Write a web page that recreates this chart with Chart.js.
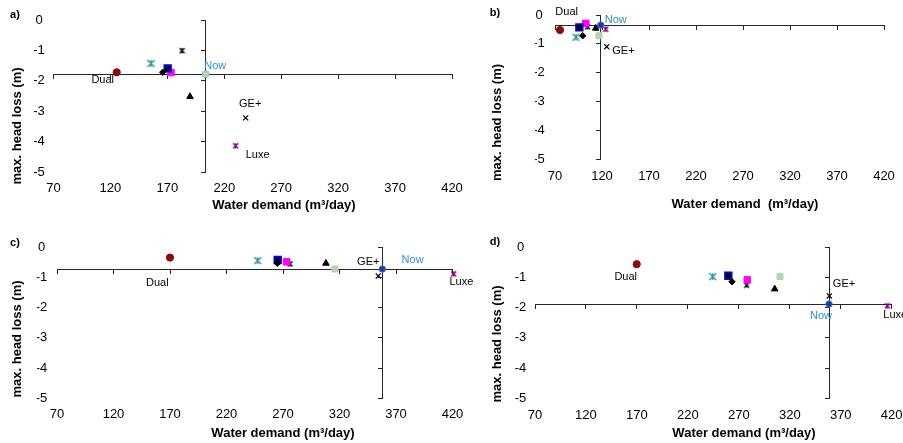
<!DOCTYPE html>
<html>
<head>
<meta charset="utf-8">
<script src="https://cdn.jsdelivr.net/npm/chart.js@4.4.1/dist/chart.umd.min.js"></script>
<style>
  html, body { margin: 0; padding: 0; background: #fff; }
  #wrap { position: relative; width: 903px; height: 443px; overflow: hidden; }
  #wrap canvas { position: absolute; left: 0; top: 0; }
</style>
</head>
<body>
<div id="wrap">
  <canvas id="panelA" width="903" height="443"></canvas>
  <canvas id="panelB" width="903" height="443"></canvas>
  <canvas id="panelC" width="903" height="443"></canvas>
  <canvas id="panelD" width="903" height="443"></canvas>
</div>
<script>
// scenarios, same order in every panel
const scenarios = ['Dual', 'S2', 'S3', 'S4', 'S5', 'S6', 'S7', 'S8', 'Now', 'GE+', 'Luxe'];

// tick labels
const demandTicks = [70, 120, 170, 220, 270, 320, 370, 420];
const lossTicks = [0, -1, -2, -3, -4, -5];

// a)
const demandA = [125.5, 155.6, 165.9, 170.3, 173.2, 182.9, 189.9, 203.7, 203.7, 238.8, 230.0];
const lossA   = [-1.72, -1.43, -1.72, -1.59, -1.73, -1.01, -2.52, -1.78, -1.78, -3.22, -4.14];
// b)
const demandB = [75.3, 92.3, 99.5, 95.9, 102.7, 104.7, 113.3, 116.8, 118.6, 125.0, 124.0];
const lossB   = [-0.52, -0.77, -0.72, -0.43, -0.29, -0.41, -0.46, -0.72, -0.35, -1.10, -0.49];
// c)
const demandC = [170.0, 247.6, 265.0, 265.3, 273.3, 276.2, 308.0, 316.0, 357.9, 354.3, 421.0];
const lossC   = [-0.34, -0.44, -0.53, -0.42, -0.48, -0.55, -0.53, -0.72, -0.72, -0.95, -0.88];
// d)
const demandD = [169.8, 244.4, 263.3, 259.7, 278.3, 277.7, 305.2, 310.4, 358.5, 358.8, 415.7];
const lossD   = [-0.56, -0.97, -1.14, -0.94, -1.08, -1.25, -1.38, -0.97, -1.88, -1.61, -1.94];

const FONT = "'Liberation Sans', Arial, sans-serif";

// excel style asterisk (x plus vertical bar)
function asterisk(color, size, lw) {
  const c = document.createElement('canvas');
  c.width = c.height = size + 2;
  const g = c.getContext('2d');
  const m = (size + 2) / 2, r = size / 2;
  g.strokeStyle = color;
  g.lineWidth = lw;
  g.beginPath();
  g.moveTo(m - r, m - r); g.lineTo(m + r, m + r);
  g.moveTo(m + r, m - r); g.lineTo(m - r, m + r);
  g.moveTo(m, m - r); g.lineTo(m, m + r);
  g.stroke();
  return c;
}

const markers = [
  { style: 'circle', r: 3.6, fill: '#8b0a0a', line: '#8b0a0a', w: 1 },
  { style: asterisk('#2b9a9a', 7, 1.4), r: 4, fill: '#2b9a9a', line: '#2b9a9a', w: 1 },
  { style: 'rectRot', r: 3.2, fill: '#000', line: '#000', w: 1 },
  { style: 'rect', r: 4.8, fill: '#000', line: '#0000ff', w: 1.6 },
  { style: 'rect', r: 4.6, fill: '#ff00ff', line: '#ff00ff', w: 1 },
  { style: asterisk('#000', 5, 1.4), r: 3, fill: '#000', line: '#000', w: 1 },
  { style: 'triangle', r: 3.8, fill: '#000', line: '#000', w: 1 },
  { style: 'rect', r: 4.2, fill: '#b9cdb9', line: '#a6d8a6', w: 1 },
  { style: 'circle', r: 3.2, fill: '#1c3c9c', line: '#3b6fd8', w: 1 },
  { style: 'crossRot', r: 3.6, fill: '#000', line: '#000', w: 1.2 },
  { style: asterisk('#800080', 5, 1.5), r: 3, fill: '#800080', line: '#800080', w: 1 }
];

const panelText = {
  id: 'panelText',
  afterDatasetsDraw(chart, args, opts) {
    const ctx = chart.ctx;
    ctx.save();
    ctx.textBaseline = 'middle';
    ctx.fillStyle = '#000';
    // panel letter
    ctx.font = 'bold 11px ' + FONT;
    ctx.textAlign = 'center';
    ctx.fillText(opts.letter.text, opts.letter.x, opts.letter.y);
    // axis titles
    ctx.font = 'bold 13px ' + FONT;
    ctx.fillText(opts.xTitle.text, opts.xTitle.x, opts.xTitle.y);
    ctx.save();
    ctx.translate(opts.yTitle.x, opts.yTitle.y);
    ctx.rotate(-Math.PI / 2);
    ctx.fillText(opts.yTitle.text, 0, 0);
    ctx.restore();
    // point labels
    ctx.font = '11px ' + FONT;
    opts.labels.forEach(l => {
      const pt = chart.getDatasetMeta(scenarios.indexOf(l.name)).data[0];
      ctx.fillStyle = l.color || '#000';
      ctx.textAlign = l.align || 'center';
      ctx.fillText(l.name, pt.x + l.dx, pt.y + l.dy);
    });
    ctx.restore();
  }
};

// keep label scales from pushing the plot area in
function noEdgePadding(s) {
  s.paddingLeft = s.paddingRight = s.paddingTop = s.paddingBottom = 0;
}

function makePanel(id, demand, loss, cfg) {
  const nowIdx = scenarios.indexOf('Now');
  const crossX = demand[nowIdx], crossY = loss[nowIdx];
  const xMin = demandTicks[0], xMax = demandTicks[demandTicks.length - 1];
  const yMin = lossTicks[lossTicks.length - 1], yMax = lossTicks[0];
  const a = cfg.area;
  const tickFont = { family: FONT, size: 13 };

  const datasets = scenarios.map((name, i) => ({
    label: name,
    data: [{ x: demand[i], y: loss[i] }],
    pointStyle: markers[i].style,
    pointRadius: markers[i].r,
    pointHoverRadius: markers[i].r,
    backgroundColor: markers[i].fill,
    borderColor: markers[i].line,
    pointBorderWidth: markers[i].w,
    clip: false
  }));

  return new Chart(document.getElementById(id), {
    type: 'scatter',
    data: { datasets },
    options: {
      responsive: false,
      animation: false,
      events: [],
      layout: {
        padding: { left: a.left - 20, right: 903 - a.right, top: a.top, bottom: 443 - a.bottom - 25 }
      },
      plugins: {
        legend: { display: false },
        tooltip: { enabled: false },
        panelText: cfg.text
      },
      scales: {
        x: {
          type: 'linear', position: 'bottom', min: xMin, max: xMax,
          afterFit: s => { s.height = 25; noEdgePadding(s); },
          grid: { display: false, drawTicks: false },
          border: { display: false },
          ticks: { stepSize: 50, padding: cfg.xPad, font: tickFont, color: '#000', maxRotation: 0, autoSkip: false }
        },
        y: {
          type: 'linear', position: 'left', min: yMin, max: yMax,
          afterFit: s => { s.width = 20; noEdgePadding(s); },
          grid: { display: false, drawTicks: false },
          border: { display: false },
          ticks: { stepSize: 1, padding: cfg.yPad, crossAlign: 'center', font: tickFont, color: '#000' }
        },
        xc: {
          type: 'linear', axis: 'x', position: { y: crossY }, min: xMin, max: xMax,
          ticks: { display: false, stepSize: 50 },
          grid: { display: true, drawOnChartArea: false, drawTicks: true, tickLength: 4, color: '#262626', lineWidth: 1 },
          border: { display: true, color: '#262626', width: 1 }
        },
        yc: {
          type: 'linear', axis: 'y', position: { x: crossX }, min: yMin, max: yMax,
          ticks: { display: false, stepSize: 1 },
          grid: { display: true, drawOnChartArea: false, drawTicks: true, tickLength: 4, color: '#262626', lineWidth: 1 },
          border: { display: true, color: '#262626', width: 1 }
        }
      }
    },
    plugins: [panelText]
  });
}

const yTitle = 'max. head loss (m)';
const nowBlue = '#2f8fd6';

makePanel('panelA', demandA, lossA, {
  area: { left: 53.5, right: 452, top: 20, bottom: 172 },
  xPad: 8.5, yPad: 8.7,
  text: {
    letter: { text: 'a)', x: 15, y: 15 },
    xTitle: { text: 'Water demand (m³/day)', x: 284, y: 205 },
    yTitle: { text: yTitle, x: 17, y: 126 },
    labels: [
      { name: 'Dual', dx: -14, dy: 8 },
      { name: 'Now', dx: 9.5, dy: -8, color: nowBlue },
      { name: 'GE+', dx: 4.5, dy: -14 },
      { name: 'Luxe', dx: 22, dy: 9.5 }
    ]
  }
});

makePanel('panelB', demandB, lossB, {
  area: { left: 555, right: 884, top: 15, bottom: 159.3 },
  xPad: 9.6, yPad: 10.2,
  text: {
    letter: { text: 'b)', x: 495, y: 13 },
    xTitle: { text: 'Water demand  (m³/day)', x: 745, y: 204 },
    yTitle: { text: yTitle, x: 497, y: 122.5 },
    labels: [
      { name: 'Dual', dx: 6.7, dy: -17.7 },
      { name: 'Now', dx: 15, dy: -5, color: nowBlue },
      { name: 'GE+', dx: 16.7, dy: 4 }
    ]
  }
});

makePanel('panelC', demandC, lossC, {
  area: { left: 57, right: 452.5, top: 247.3, bottom: 398.3 },
  xPad: 8.2, yPad: 9.7,
  text: {
    letter: { text: 'c)', x: 15, y: 243 },
    xTitle: { text: 'Water demand (m³/day)', x: 283, y: 433 },
    yTitle: { text: yTitle, x: 17, y: 339 },
    labels: [
      { name: 'Dual', dx: -12.7, dy: 25 },
      { name: 'GE+', dx: -10, dy: -14.3 },
      { name: 'Now', dx: 30.3, dy: -9, color: nowBlue },
      { name: 'Luxe', dx: 7.7, dy: 8.3 }
    ]
  }
});

makePanel('panelD', demandD, lossD, {
  area: { left: 535, right: 891.7, top: 247.3, bottom: 398.3 },
  xPad: 8.9, yPad: 8.7,
  text: {
    letter: { text: 'd)', x: 495, y: 242 },
    xTitle: { text: 'Water demand (m³/day)', x: 744, y: 433 },
    yTitle: { text: yTitle, x: 497, y: 344 },
    labels: [
      { name: 'Dual', dx: -11, dy: 13 },
      { name: 'GE+', dx: 14.7, dy: -12 },
      { name: 'Now', dx: -8, dy: 11.7, color: nowBlue },
      { name: 'Luxe', dx: -4, dy: 9, align: 'left' }
    ]
  }
});
</script>
</body>
</html>
